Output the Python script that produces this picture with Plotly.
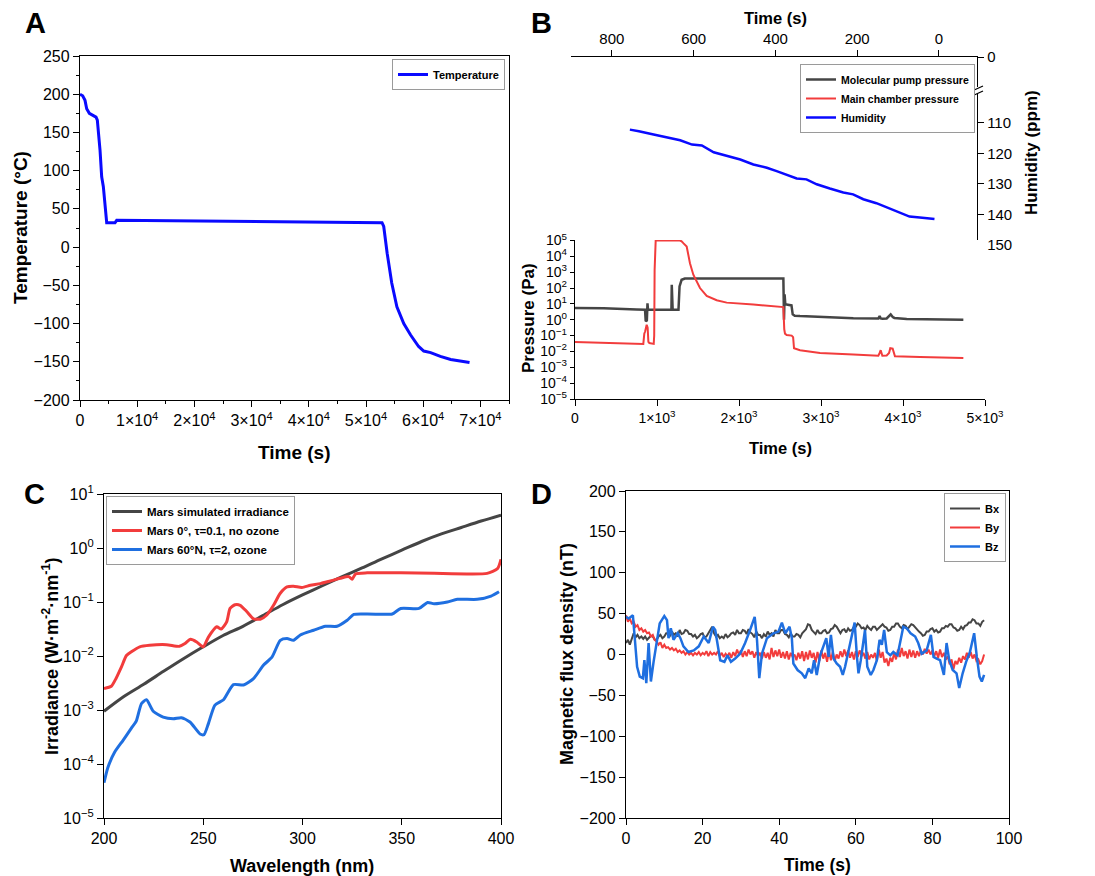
import numpy as np
import plotly.graph_objects as go

# page body adds an 8 px margin, so the figure is shrunk by that and every
# pixel position below is shifted back by it
OFF = 8
W, H = 1095 - OFF, 876 - OFF
FONT = "Liberation Sans, Arial, sans-serif"


def fx(px):
    return (px - OFF) / W


def fy(py):
    return 1 - (py - OFF) / H


# ── Panel A: temperature ──────────────────────────────────────────────
temp_time = [0, 467, 875, 1167, 1633, 2333, 2800, 3030, 3500, 3790, 4080, 4667,
             6125, 6417, 21000, 38500, 52800, 53100, 53700, 54500, 55400, 56600,
             57800, 59200, 60100, 61300, 63000, 64800, 66500, 68100]
temp_c = [200, 198, 192, 181, 175, 172, 170, 166, 127, 92, 79, 32,
          32, 35, 34, 33, 32, 27, -8, -47, -78, -100,
          -115, -130, -136, -138, -143, -147, -149, -151]
temp_xticks = [0, 10000, 20000, 30000, 40000, 50000, 60000, 70000]
temp_xlabels = ["0"] + [f"{k}×10<sup>4</sup>" for k in range(1, 8)]

# ── Panel B: humidity (top, reversed time) and pressure ───────────────
hum_time = [756, 734, 698, 665, 633, 604, 580, 551, 519, 486, 454, 421, 397, 372,
            348, 324, 299, 267, 234, 210, 185, 153, 120, 96, 72, 47, 27, 11]
hum_ppm = [112.2, 112.7, 113.8, 114.7, 115.7, 117.1, 117.4, 119.6, 120.9, 122.0,
           123.6, 124.7, 125.8, 127.1, 128.2, 128.5, 130.1, 131.5, 132.8, 133.4,
           135.0, 136.3, 138.0, 139.3, 140.7, 141.0, 141.2, 141.5]
hum_ticks = [110, 120, 130, 140, 150]

mol_time = [0, 350, 752, 833, 854, 862, 876, 884, 890, 902,
            976, 1176, 1180, 1185, 1191, 1262, 1275, 1300, 1340, 2541,
            2549, 2556, 2565, 2580, 2640, 2655, 2680, 2744, 2988, 3191,
            3394, 3699, 3715, 3728, 3748, 3801, 3830, 3850, 3875, 3895,
            4045, 4736]
mol_pa = [5.5, 5.3, 4.5, 4.3, 4.3, 0.9, 0.8, 11, 4.3, 4.3,
          4.3, 4.3, 160, 4.3, 4.3, 4.3, 126, 330, 400, 400,
          1.0, 40, 9, 9, 8, 2.2, 1.8, 1.7, 1.5, 1.35,
          1.25, 1.2, 1.7, 1.2, 1.15, 1.2, 1.6, 2.2, 1.5, 1.3,
          1.1, 1.0]
main_time = [0, 400, 833, 845, 855, 874, 886, 895, 907, 960,
             966, 971, 978, 984, 1280, 1300, 1321, 1362, 1402, 1443,
             1524, 1606, 1728, 1850, 2175, 2541, 2552, 2561, 2581, 2642,
             2660, 2671, 2744, 2988, 3394, 3699, 3715, 3728, 3748, 3801,
             3830, 3845, 3874, 3902, 4207, 4736]
main_pa = [0.039, 0.035, 0.030, 0.13, 0.18, 0.48, 0.32, 0.04, 0.034, 0.030,
           0.1, 1400, 50000, 100000, 100000, 89000, 68000, 42000, 3700, 690,
           100, 32, 17, 12, 9, 6.3, 0.25, 0.13, 0.11, 0.10,
           0.08, 0.016, 0.012, 0.008, 0.0063, 0.0054, 0.008, 0.012, 0.0054, 0.0056,
           0.008, 0.016, 0.015, 0.0049, 0.0045, 0.0038]
pres_xticks = [0, 1000, 2000, 3000, 4000, 5000]
pres_xlabels = ["0"] + [f"{k}×10<sup>3</sup>" for k in range(1, 6)]
pres_exps = list(range(-5, 6))

# ── Panel C: UV irradiance ────────────────────────────────────────────
sim_nm = [200, 210, 220, 230, 240, 250, 260, 270, 280, 290, 300,
          310, 320, 330, 340, 350, 360, 370, 380, 390, 400]
sim_irr = [9.5e-4, 1.78e-3, 3.0e-3, 5.2e-3, 8.9e-3, 1.48e-2, 2.4e-2, 3.55e-2,
           5.6e-2, 8.9e-2, 0.135, 0.2, 0.295, 0.427, 0.63, 0.91, 1.32, 1.82,
           2.4, 3.16, 4.07]
eq_nm = [200, 203.7, 206, 208.8, 211.3, 213.8, 218, 223, 231.5, 238, 240.8, 243.6,
         246.7, 250, 252.6, 256.8, 259, 261.8, 263.5, 266, 268.6, 272, 275.3,
         278.7, 282, 285.4, 288.8, 292.2, 295.5, 299.7, 304, 309, 314, 319,
         323.3, 325, 326.7, 332.6, 349.5, 366.3, 383, 393, 398.3, 400]
eq_irr = [2.5e-3, 2.75e-3, 3.8e-3, 6.3e-3, 1.02e-2, 1.2e-2, 1.48e-2, 1.58e-2,
          1.62e-2, 1.51e-2, 1.7e-2, 2.04e-2, 1.82e-2, 1.48e-2, 2.24e-2, 3.47e-2,
          3.16e-2, 4.27e-2, 7.6e-2, 8.9e-2, 8.7e-2, 6.6e-2, 4.9e-2, 4.8e-2,
          5.75e-2, 8.7e-2, 0.145, 0.19, 0.195, 0.186, 0.204, 0.219, 0.245, 0.275,
          0.295, 0.263, 0.331, 0.347, 0.347, 0.339, 0.331, 0.339, 0.417, 0.617]
n60_nm = [200, 202, 205.4, 209.6, 213.8, 216.3, 218.9, 221.4, 224.8, 229.8, 234.9,
          239, 243.3, 248.4, 250.4, 252.6, 255.9, 260.2, 265.2, 270.3, 275.3,
          280.4, 284.6, 288.8, 292.2, 295.5, 298.9, 305.6, 311.5, 317.4, 322.5,
          325.9, 332.6, 341, 345.2, 349.5, 358.7, 363, 366.3, 373, 378, 388, 395, 399]
n60_irr = [4.5e-5, 8.7e-5, 1.66e-4, 2.75e-4, 4.6e-4, 6.3e-4, 1.32e-3, 1.55e-3,
           9.5e-4, 7.4e-4, 6.9e-4, 7.2e-4, 6.0e-4, 3.6e-4, 3.5e-4, 5.6e-4,
           1.23e-3, 1.55e-3, 2.95e-3, 2.9e-3, 3.8e-3, 6.8e-3, 9.5e-3, 1.95e-2,
           2.1e-2, 1.95e-2, 2.45e-2, 3.0e-2, 3.55e-2, 3.55e-2, 4.6e-2, 5.9e-2,
           6.0e-2, 5.9e-2, 6.0e-2, 7.6e-2, 7.6e-2, 9.8e-2, 9.3e-2, 0.1, 0.112,
           0.112, 0.129, 0.155]
irr_exps = list(range(-5, 2))

# ── Panel D: magnetic flux density (Bx, By sampled every 0.5 s) ───────
mag_dt = 0.5
bx = [14, 18, 12, 20, 26, 21, 24, 20, 22, 19,
      22, 18, 20, 23, 22, 18, 18, 22, 24, 20,
      22, 26, 26, 23, 28, 24, 26, 22, 30, 25,
      26, 30, 29, 25, 25, 22, 24, 20, 22, 25,
      26, 21, 22, 26, 30, 34, 26, 22, 24, 20,
      22, 20, 25, 21, 23, 26, 27, 24, 30, 26,
      26, 30, 29, 25, 31, 27, 25, 21, 28, 24,
      24, 20, 25, 22, 28, 24, 26, 22, 30, 26,
      26, 30, 30, 25, 24, 21, 26, 22, 22, 25,
      24, 21, 26, 29, 31, 37, 36, 30, 28, 25,
      30, 26, 26, 29, 30, 26, 27, 31, 32, 36,
      34, 29, 26, 30, 31, 27, 32, 29, 30, 34,
      34, 38, 36, 32, 33, 30, 35, 32, 30, 34,
      34, 30, 32, 35, 37, 34, 33, 29, 30, 34,
      34, 38, 38, 34, 32, 36, 35, 31, 34, 37,
      36, 33, 31, 28, 26, 23, 24, 28, 28, 31,
      32, 28, 30, 27, 28, 32, 32, 35, 34, 37,
      37, 33, 32, 29, 30, 34, 31, 35, 36, 39,
      39, 43, 42, 38, 38, 35, 40, 42]
by = [48, 40, 44, 38, 40, 34, 36, 30, 32, 28,
      30, 26, 27, 22, 24, 18, 16, 12, 15, 8,
      12, 8, 9, 6, 8, 5, 7, 3, 5, 2,
      4, 0, 3, 0, 2, -1, 2, 0, 3, -1,
      2, 0, 4, -2, 3, 0, 2, 0, 4, -2,
      2, -3, 1, -2, 2, -4, 3, -2, 6, 0,
      5, -3, 4, -2, 6, 0, 4, -4, 3, -2,
      2, -5, 3, -4, 2, -6, 8, -3, 5, -2,
      6, -4, 3, -5, 4, -6, 2, -3, 0, -7,
      2, -5, 4, -8, 3, -6, 5, -4, 2, -10,
      3, -8, 5, -5, 2, -9, 4, -7, 3, -8,
      0, -5, 4, -3, 6, -2, 5, -4, 3, -6,
      4, -3, 5, -2, 2, -5, 3, -6, 0, -4,
      2, -8, 6, -4, 3, -10, -5, -14, -4, -9,
      2, -6, 6, -3, 8, -2, 4, -5, 6, -3,
      5, -4, 4, -2, 5, 0, 7, 1, 6, 0,
      5, -2, 4, -4, 6, -3, 2, -6, -2, -12,
      -6, -18, -8, -12, -4, -10, -2, -6, 2, -4,
      3, -5, 0, -8, -6, -12, -8, 0]
mag_time = np.arange(len(bx)) * mag_dt
bz_time = [0, 0.7, 1.8, 2.3, 2.9, 3.6, 4.4, 4.8, 5.3, 5.9, 6.5, 7.2, 7.9, 8.8,
           10, 10.7, 11.1, 11.7, 12.4, 13.5, 14.2, 15, 16.3, 17.7, 19, 20.3,
           21.6, 22.7, 23.3, 23.9, 24.6, 25.7, 26.5, 27.4, 28.5, 29.8, 31.1,
           32.4, 33.6, 34.2, 34.8, 35.5, 36.8, 38.5, 39.8, 40.7, 41.6, 42.7,
           43.3, 43.7, 44.8, 45.9, 46.8, 47.7, 48.5, 49.1, 49.8, 50.7, 51.6,
           52.3, 52.9, 53.5, 54.2, 55, 55.9, 56.6, 57.2, 58.1, 59, 59.7, 60.3,
           60.7, 61.3, 62, 62.4, 63, 63.9, 64.6, 65.5, 66.2, 66.8, 67.4, 68.1,
           69, 69.8, 70.9, 71.6, 72.4, 73.3, 74.3, 75.5, 76.3, 77.2, 78.5,
           79.6, 80.3, 81.1, 82, 83, 83.7, 84.4, 85.3, 86.3, 87, 87.9, 88.8,
           89.8, 90.3, 90.9, 91.6, 92.3, 92.9, 93.5]
bz = [46, 44, 48, 22, -15, -27, -29, -7, -35, 14, -33, -9, 14, 38,
      47, 42, 20, 32, 18, 26, 20, 10, 3, 5, 10, 22,
      14, 34, 30, 14, -7, -9, -1, -9, -5, 1, 14,
      30, 46, 18, -29, 1, 20, 26, 28, 39, 26, 34,
      20, -11, -19, -23, -29, -17, -23, -7, -25, -1, 10,
      20, -3, 24, -5, -11, -15, -25, -15, 5, 26, 39, -3,
      -23, -7, 14, 30, -15, -25, -19, -7, 18, 12, 30, 3,
      -1, 3, -1, 14, 34, 32, 26, 22, 14, 1, 5,
      24, -3, -5, -7, -25, 14, -7, -19, -23, -41, -23, -9,
      3, 12, 26, -3, -27, -33, -25]

C_GRAY = "#454545"
C_RED = "#f23c3c"
C_BLUE = "#1f6fe0"

fig = go.Figure()

# A
fig.add_trace(go.Scatter(x=temp_time, y=temp_c, mode="lines", name="Temperature",
                         line=dict(color="#0a0aff", width=3), xaxis="x", yaxis="y",
                         legend="legend"))
# B
fig.add_trace(go.Scatter(x=mol_time, y=mol_pa, mode="lines", name="Molecular pump pressure",
                         line=dict(color=C_GRAY, width=2.5), xaxis="x3", yaxis="y3",
                         legend="legend2"))
fig.add_trace(go.Scatter(x=main_time, y=main_pa, mode="lines", name="Main chamber pressure",
                         line=dict(color=C_RED, width=2), xaxis="x3", yaxis="y3",
                         legend="legend2"))
fig.add_trace(go.Scatter(x=hum_time, y=hum_ppm, mode="lines", name="Humidity",
                         line=dict(color="#0a0aff", width=2.5), xaxis="x2", yaxis="y2",
                         legend="legend2"))
# C
fig.add_trace(go.Scatter(x=sim_nm, y=sim_irr, mode="lines", name="Mars simulated irradiance",
                         line=dict(color=C_GRAY, width=3, shape="spline", smoothing=0.8),
                         xaxis="x4", yaxis="y4", legend="legend3"))
fig.add_trace(go.Scatter(x=eq_nm, y=eq_irr, mode="lines", name="Mars 0°, τ=0.1, no ozone",
                         line=dict(color=C_RED, width=3, shape="spline", smoothing=0.6),
                         xaxis="x4", yaxis="y4", legend="legend3"))
fig.add_trace(go.Scatter(x=n60_nm, y=n60_irr, mode="lines", name="Mars 60°N, τ=2, ozone",
                         line=dict(color=C_BLUE, width=3, shape="spline", smoothing=0.6),
                         xaxis="x4", yaxis="y4", legend="legend3"))
# D
fig.add_trace(go.Scatter(x=mag_time, y=bx, mode="lines", name="Bx",
                         line=dict(color=C_GRAY, width=2), xaxis="x5", yaxis="y5",
                         legend="legend4"))
fig.add_trace(go.Scatter(x=mag_time, y=by, mode="lines", name="By",
                         line=dict(color=C_RED, width=2), xaxis="x5", yaxis="y5",
                         legend="legend4"))
fig.add_trace(go.Scatter(x=bz_time, y=bz, mode="lines", name="Bz",
                         line=dict(color=C_BLUE, width=2.5), xaxis="x5", yaxis="y5",
                         legend="legend4"))


def axis(size=16, **kw):
    d = dict(showline=True, linecolor="black", linewidth=1.3, ticks="outside",
             ticklen=6, tickwidth=1.3, tickcolor="black", showgrid=False,
             zeroline=False, automargin=False,
             tickfont=dict(family=FONT, size=size, color="black"))
    d.update(kw)
    return d


minor_tick = dict(ticks="outside", ticklen=3, tickwidth=1, tickcolor="black")

layout = dict(
    width=W, height=H, margin=dict(l=0, r=0, t=0, b=0), showlegend=True,
    paper_bgcolor="white", plot_bgcolor="white",
    font=dict(family=FONT, color="black"),
    # A
    xaxis=axis(domain=[fx(80), fx(509)], anchor="y", range=[0, 75000], mirror=True,
               tickmode="array", tickvals=temp_xticks, ticktext=temp_xlabels,
               minor=dict(tickmode="linear", tick0=0, dtick=5000, **minor_tick)),
    yaxis=axis(domain=[fy(400), fy(56)], anchor="x", range=[-200, 250], mirror=True,
               tick0=0, dtick=50, minor=dict(tick0=0, dtick=25, **minor_tick)),
    # B humidity
    xaxis2=axis(size=15, domain=[fx(571), fx(977)], anchor="y2", side="top",
                range=[900, -93], tickmode="array", tickvals=[800, 600, 400, 200, 0]),
    yaxis2=axis(size=15, domain=[fy(245), fy(57)], anchor="x2", side="right",
                range=[150, 88.4], tickmode="array",
                tickvals=[88.4] + hum_ticks, ticktext=["0"] + [str(v) for v in hum_ticks]),
    # B pressure
    xaxis3=axis(size=14, domain=[fx(575), fx(985)], anchor="y3", range=[0, 5000],
                tickmode="array", tickvals=pres_xticks, ticktext=pres_xlabels),
    yaxis3=axis(size=14, domain=[fy(399), fy(240)], anchor="x3", type="log",
                range=[-5, 5.03], tickmode="array", ticklen=4,
                tickvals=[10.0 ** e for e in pres_exps],
                ticktext=[f"10<sup>{str(e).replace('-', '−')}</sup>" for e in pres_exps]),
    # C
    xaxis4=axis(domain=[fx(104), fx(501)], anchor="y4", range=[200, 400], mirror=True,
                dtick=50),
    yaxis4=axis(domain=[fy(818), fy(494)], anchor="x4", type="log", range=[-5, 1],
                mirror=True, tickmode="array",
                tickvals=[10.0 ** e for e in irr_exps],
                ticktext=[f"10<sup>{str(e).replace('-', '−')}</sup>" for e in irr_exps]),
    # D
    xaxis5=axis(domain=[fx(626), fx(1009)], anchor="y5", range=[0, 100], mirror=True,
                dtick=20),
    yaxis5=axis(domain=[fy(818), fy(491)], anchor="x5", range=[-200, 200], mirror=True,
                tick0=0, dtick=50),
)

leg = dict(bgcolor="white", bordercolor="#9a9a9a", borderwidth=1,
           font=dict(family=FONT, size=11, color="black", weight="bold"),
           xref="paper", yref="paper", tracegroupgap=0)
layout["legend"] = dict(leg, x=fx(505), y=fy(59), xanchor="right", yanchor="top")
layout["legend2"] = dict(leg, x=fx(975), y=fy(64), xanchor="right", yanchor="top",
                         font=dict(family=FONT, size=10.5, color="black", weight="bold"))
layout["legend3"] = dict(leg, x=fx(106), y=fy(496), xanchor="left", yanchor="top",
                         font=dict(family=FONT, size=11.5, color="black", weight="bold"))
layout["legend4"] = dict(leg, x=fx(1006), y=fy(493), xanchor="right", yanchor="top")

fig.update_layout(**layout)


def label(text, px, py, size=18, angle=0, bold=True):
    fig.add_annotation(text=f"<b>{text}</b>" if bold else text, x=fx(px), y=fy(py),
                       xref="paper", yref="paper", showarrow=False, textangle=angle,
                       xanchor="center", yanchor="middle",
                       font=dict(family=FONT, size=size, color="black"))


# axis titles
label("Time (s)", 294, 452, 19)
label("Temperature (°C)", 20, 228, 19, -90)
label("Time (s)", 775, 18, 16.5)
label("Humidity (ppm)", 1031, 153, 17, -90)
label("Time (s)", 780, 448, 16.5)
label("Pressure (Pa)", 528, 318, 17, -90)
label("Wavelength (nm)", 302, 866, 18)
label("Irradiance (W·m<sup>-2</sup>·nm<sup>-1</sup>)", 50, 657, 18, -90)
label("Time (s)", 817, 865, 17.5)
label("Magnetic flux density (nT)", 567, 654, 18, -90)

# panel letters
label("A", 35, 23, 29)
label("B", 541, 23, 29)
label("C", 34, 494, 29)
label("D", 541, 494, 29)

# axis break on the humidity axis
fig.add_shape(type="rect", xref="paper", yref="paper", x0=fx(972), x1=fx(983),
              y0=fy(94), y1=fy(87), fillcolor="white", line=dict(width=0))
for off in (0, 5):
    fig.add_shape(type="line", xref="paper", yref="paper",
                  x0=fx(972), y0=fy(91 + off), x1=fx(983), y1=fy(86 + off),
                  line=dict(color="black", width=1.2))

fig.write_html("out.html")
